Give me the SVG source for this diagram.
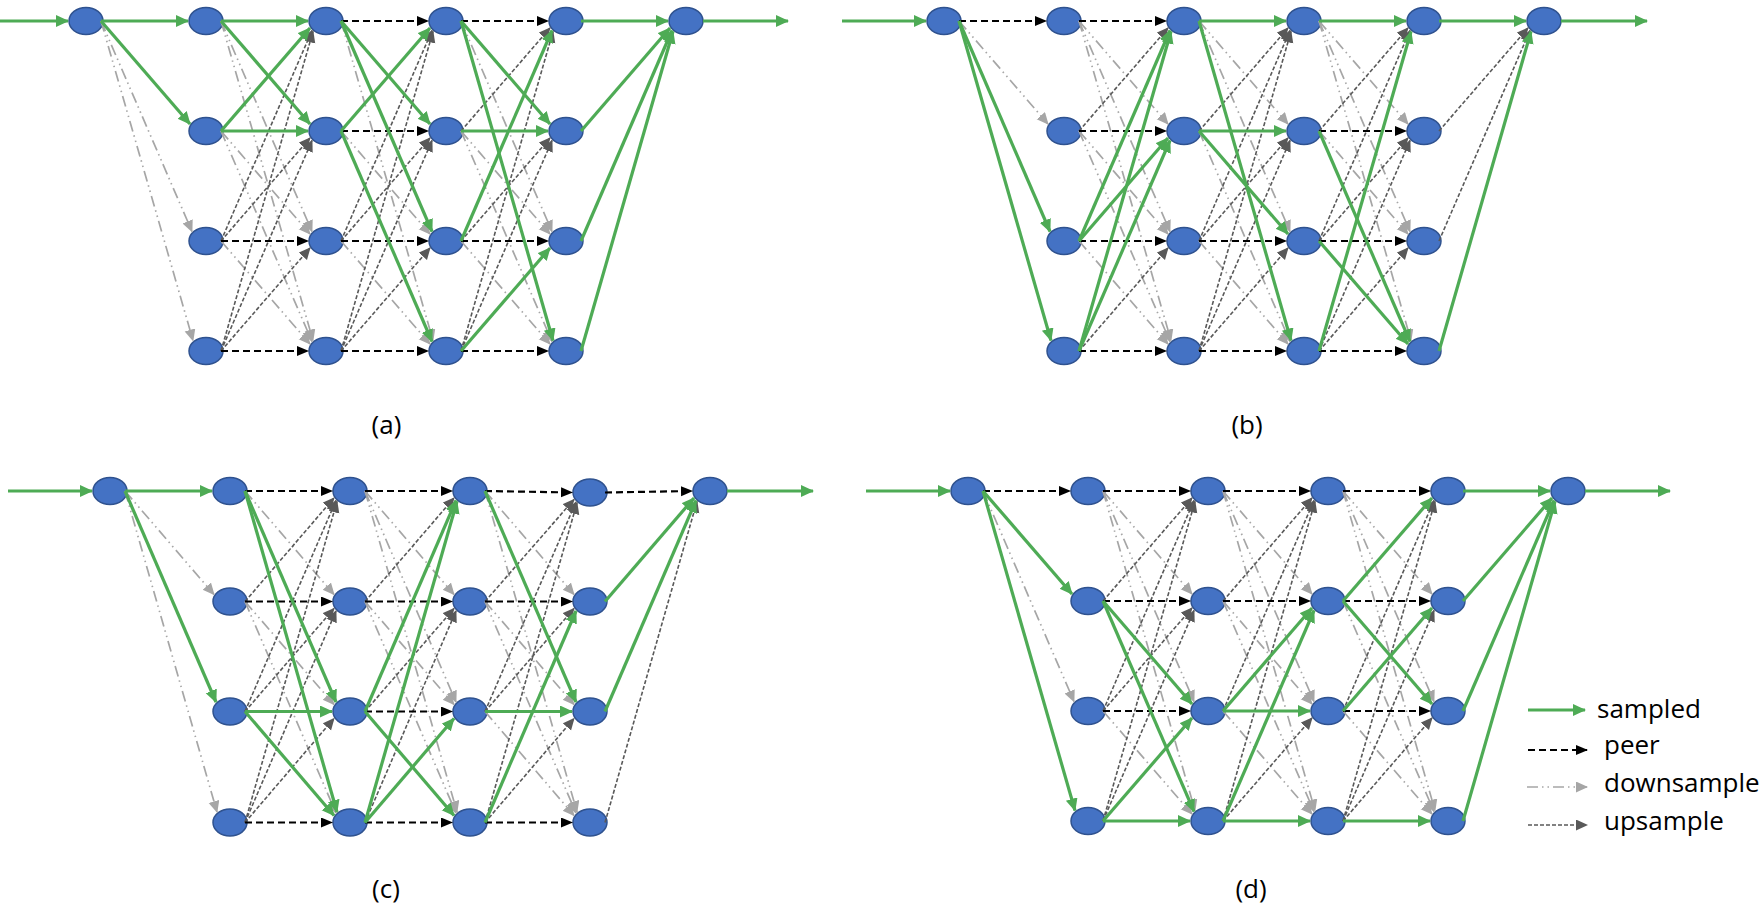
<svg xmlns="http://www.w3.org/2000/svg" width="1763" height="919" viewBox="0 0 1763 919">
<style>
.n{fill:#4472C4;stroke:#2F528F;stroke-width:1.5}
.s line{stroke:#4EAB55;stroke-width:3.2;marker-end:url(#ms)}
.p line{stroke:#000;stroke-width:2.2;stroke-dasharray:7 4;marker-end:url(#mp)}
.d line{stroke:#A6A6A6;stroke-width:1.7;stroke-dasharray:11 4 1.5 4 1.5 4;marker-end:url(#md)}
.u line{stroke:#595959;stroke-width:1.6;stroke-dasharray:4 2;marker-end:url(#mu)}
.lbl{font-family:"Open Sans","Noto Sans","Liberation Sans",sans-serif;font-size:26px;fill:#000}
</style>
<defs>
<marker id="ms" markerUnits="userSpaceOnUse" markerWidth="14" markerHeight="13" refX="12" refY="6" orient="auto"><path d="M0,0 L13,6 L0,12 z" fill="#4EAB55"/></marker>
<marker id="mp" markerUnits="userSpaceOnUse" markerWidth="13" markerHeight="11" refX="11" refY="5" orient="auto"><path d="M0,0 L12,5 L0,10 z" fill="#000"/></marker>
<marker id="md" markerUnits="userSpaceOnUse" markerWidth="13" markerHeight="12" refX="11" refY="5.5" orient="auto"><path d="M0,0 L12,5.5 L0,11 z" fill="#A6A6A6"/></marker>
<marker id="mu" markerUnits="userSpaceOnUse" markerWidth="13" markerHeight="12" refX="11" refY="5.5" orient="auto"><path d="M0,0 L12,5.5 L0,11 z" fill="#595959"/></marker>
</defs>
<rect width="1763" height="919" fill="#fff"/>

<g id="nodes">
<g id="panel-a-nodes">
<g id="a-c0r0"><ellipse class="n" cx="86" cy="21" rx="17" ry="13.5"/></g>
<g id="a-c1r0"><ellipse class="n" cx="206" cy="21" rx="17" ry="13.5"/></g>
<g id="a-c1r1"><ellipse class="n" cx="206" cy="131" rx="17" ry="13.5"/></g>
<g id="a-c1r2"><ellipse class="n" cx="206" cy="241" rx="17" ry="13.5"/></g>
<g id="a-c1r3"><ellipse class="n" cx="206" cy="351" rx="17" ry="13.5"/></g>
<g id="a-c2r0"><ellipse class="n" cx="326" cy="21" rx="17" ry="13.5"/></g>
<g id="a-c2r1"><ellipse class="n" cx="326" cy="131" rx="17" ry="13.5"/></g>
<g id="a-c2r2"><ellipse class="n" cx="326" cy="241" rx="17" ry="13.5"/></g>
<g id="a-c2r3"><ellipse class="n" cx="326" cy="351" rx="17" ry="13.5"/></g>
<g id="a-c3r0"><ellipse class="n" cx="446" cy="21" rx="17" ry="13.5"/></g>
<g id="a-c3r1"><ellipse class="n" cx="446" cy="131" rx="17" ry="13.5"/></g>
<g id="a-c3r2"><ellipse class="n" cx="446" cy="241" rx="17" ry="13.5"/></g>
<g id="a-c3r3"><ellipse class="n" cx="446" cy="351" rx="17" ry="13.5"/></g>
<g id="a-c4r0"><ellipse class="n" cx="566" cy="21" rx="17" ry="13.5"/></g>
<g id="a-c4r1"><ellipse class="n" cx="566" cy="131" rx="17" ry="13.5"/></g>
<g id="a-c4r2"><ellipse class="n" cx="566" cy="241" rx="17" ry="13.5"/></g>
<g id="a-c4r3"><ellipse class="n" cx="566" cy="351" rx="17" ry="13.5"/></g>
<g id="a-c5r0"><ellipse class="n" cx="686" cy="21" rx="17" ry="13.5"/></g>
</g>
<g id="panel-b-nodes">
<g id="b-c0r0"><ellipse class="n" cx="944" cy="21" rx="17" ry="13.5"/></g>
<g id="b-c1r0"><ellipse class="n" cx="1064" cy="21" rx="17" ry="13.5"/></g>
<g id="b-c1r1"><ellipse class="n" cx="1064" cy="131" rx="17" ry="13.5"/></g>
<g id="b-c1r2"><ellipse class="n" cx="1064" cy="241" rx="17" ry="13.5"/></g>
<g id="b-c1r3"><ellipse class="n" cx="1064" cy="351" rx="17" ry="13.5"/></g>
<g id="b-c2r0"><ellipse class="n" cx="1184" cy="21" rx="17" ry="13.5"/></g>
<g id="b-c2r1"><ellipse class="n" cx="1184" cy="131" rx="17" ry="13.5"/></g>
<g id="b-c2r2"><ellipse class="n" cx="1184" cy="241" rx="17" ry="13.5"/></g>
<g id="b-c2r3"><ellipse class="n" cx="1184" cy="351" rx="17" ry="13.5"/></g>
<g id="b-c3r0"><ellipse class="n" cx="1304" cy="21" rx="17" ry="13.5"/></g>
<g id="b-c3r1"><ellipse class="n" cx="1304" cy="131" rx="17" ry="13.5"/></g>
<g id="b-c3r2"><ellipse class="n" cx="1304" cy="241" rx="17" ry="13.5"/></g>
<g id="b-c3r3"><ellipse class="n" cx="1304" cy="351" rx="17" ry="13.5"/></g>
<g id="b-c4r0"><ellipse class="n" cx="1424" cy="21" rx="17" ry="13.5"/></g>
<g id="b-c4r1"><ellipse class="n" cx="1424" cy="131" rx="17" ry="13.5"/></g>
<g id="b-c4r2"><ellipse class="n" cx="1424" cy="241" rx="17" ry="13.5"/></g>
<g id="b-c4r3"><ellipse class="n" cx="1424" cy="351" rx="17" ry="13.5"/></g>
<g id="b-c5r0"><ellipse class="n" cx="1544" cy="21" rx="17" ry="13.5"/></g>
</g>
<g id="panel-c-nodes">
<g id="c-c0r0"><ellipse class="n" cx="110" cy="491" rx="17" ry="13.5"/></g>
<g id="c-c1r0"><ellipse class="n" cx="230" cy="491" rx="17" ry="13.5"/></g>
<g id="c-c1r1"><ellipse class="n" cx="230" cy="601.5" rx="17" ry="13.5"/></g>
<g id="c-c1r2"><ellipse class="n" cx="230" cy="711.5" rx="17" ry="13.5"/></g>
<g id="c-c1r3"><ellipse class="n" cx="230" cy="822.5" rx="17" ry="13.5"/></g>
<g id="c-c2r0"><ellipse class="n" cx="350" cy="491" rx="17" ry="13.5"/></g>
<g id="c-c2r1"><ellipse class="n" cx="350" cy="601.5" rx="17" ry="13.5"/></g>
<g id="c-c2r2"><ellipse class="n" cx="350" cy="711.5" rx="17" ry="13.5"/></g>
<g id="c-c2r3"><ellipse class="n" cx="350" cy="822.5" rx="17" ry="13.5"/></g>
<g id="c-c3r0"><ellipse class="n" cx="470" cy="491" rx="17" ry="13.5"/></g>
<g id="c-c3r1"><ellipse class="n" cx="470" cy="601.5" rx="17" ry="13.5"/></g>
<g id="c-c3r2"><ellipse class="n" cx="470" cy="711.5" rx="17" ry="13.5"/></g>
<g id="c-c3r3"><ellipse class="n" cx="470" cy="822.5" rx="17" ry="13.5"/></g>
<g id="c-c4r0"><ellipse class="n" cx="590" cy="492.5" rx="17" ry="13.5"/></g>
<g id="c-c4r1"><ellipse class="n" cx="590" cy="601.5" rx="17" ry="13.5"/></g>
<g id="c-c4r2"><ellipse class="n" cx="590" cy="711.5" rx="17" ry="13.5"/></g>
<g id="c-c4r3"><ellipse class="n" cx="590" cy="822.5" rx="17" ry="13.5"/></g>
<g id="c-c5r0"><ellipse class="n" cx="710" cy="491" rx="17" ry="13.5"/></g>
</g>
<g id="panel-d-nodes">
<g id="d-c0r0"><ellipse class="n" cx="968" cy="491" rx="17" ry="13.5"/></g>
<g id="d-c1r0"><ellipse class="n" cx="1088" cy="491" rx="17" ry="13.5"/></g>
<g id="d-c1r1"><ellipse class="n" cx="1088" cy="601" rx="17" ry="13.5"/></g>
<g id="d-c1r2"><ellipse class="n" cx="1088" cy="711" rx="17" ry="13.5"/></g>
<g id="d-c1r3"><ellipse class="n" cx="1088" cy="821" rx="17" ry="13.5"/></g>
<g id="d-c2r0"><ellipse class="n" cx="1208" cy="491" rx="17" ry="13.5"/></g>
<g id="d-c2r1"><ellipse class="n" cx="1208" cy="601" rx="17" ry="13.5"/></g>
<g id="d-c2r2"><ellipse class="n" cx="1208" cy="711" rx="17" ry="13.5"/></g>
<g id="d-c2r3"><ellipse class="n" cx="1208" cy="821" rx="17" ry="13.5"/></g>
<g id="d-c3r0"><ellipse class="n" cx="1328" cy="491" rx="17" ry="13.5"/></g>
<g id="d-c3r1"><ellipse class="n" cx="1328" cy="601" rx="17" ry="13.5"/></g>
<g id="d-c3r2"><ellipse class="n" cx="1328" cy="711" rx="17" ry="13.5"/></g>
<g id="d-c3r3"><ellipse class="n" cx="1328" cy="821" rx="17" ry="13.5"/></g>
<g id="d-c4r0"><ellipse class="n" cx="1448" cy="491" rx="17" ry="13.5"/></g>
<g id="d-c4r1"><ellipse class="n" cx="1448" cy="601" rx="17" ry="13.5"/></g>
<g id="d-c4r2"><ellipse class="n" cx="1448" cy="711" rx="17" ry="13.5"/></g>
<g id="d-c4r3"><ellipse class="n" cx="1448" cy="821" rx="17" ry="13.5"/></g>
<g id="d-c5r0"><ellipse class="n" cx="1568" cy="491" rx="17" ry="13.5"/></g>
</g>
</g>

<g id="connectors">
<g class="d">
<line x1="101" y1="21" x2="192" y2="231.5"/><line x1="101" y1="21" x2="193" y2="340.5"/>
<line x1="221" y1="21" x2="312" y2="231.5"/><line x1="221" y1="21" x2="313" y2="340.5"/><line x1="221" y1="131" x2="310" y2="234"/><line x1="221" y1="131" x2="312" y2="341.5"/><line x1="221" y1="241" x2="310" y2="344"/>
<line x1="341" y1="21" x2="433" y2="340.5"/><line x1="341" y1="131" x2="430" y2="234"/><line x1="341" y1="241" x2="430" y2="344"/>
<line x1="461" y1="21" x2="552" y2="231.5"/><line x1="461" y1="131" x2="550" y2="234"/><line x1="461" y1="131" x2="552" y2="341.5"/><line x1="461" y1="241" x2="550" y2="344"/>

<line x1="959" y1="21" x2="1048" y2="124"/>
<line x1="1079" y1="21" x2="1168" y2="124"/><line x1="1079" y1="21" x2="1170" y2="231.5"/><line x1="1079" y1="21" x2="1171" y2="340.5"/><line x1="1079" y1="131" x2="1168" y2="234"/><line x1="1079" y1="131" x2="1170" y2="341.5"/><line x1="1079" y1="241" x2="1168" y2="344"/>
<line x1="1199" y1="21" x2="1288" y2="124"/><line x1="1199" y1="21" x2="1290" y2="231.5"/><line x1="1199" y1="131" x2="1290" y2="341.5"/><line x1="1199" y1="241" x2="1288" y2="344"/>
<line x1="1319" y1="21" x2="1408" y2="124"/><line x1="1319" y1="21" x2="1410" y2="231.5"/><line x1="1319" y1="21" x2="1411" y2="340.5"/><line x1="1319" y1="131" x2="1408" y2="234"/>

<line x1="125" y1="491" x2="214" y2="594.5"/><line x1="125" y1="491" x2="217" y2="812"/>
<line x1="245" y1="491" x2="334" y2="594.5"/><line x1="245" y1="601.5" x2="334" y2="704.5"/><line x1="245" y1="601.5" x2="336" y2="813"/>
<line x1="365" y1="491" x2="454" y2="594.5"/><line x1="365" y1="491" x2="456" y2="702"/><line x1="365" y1="491" x2="457" y2="812"/><line x1="365" y1="601.5" x2="454" y2="704.5"/><line x1="365" y1="601.5" x2="456" y2="813"/>
<line x1="485" y1="491" x2="574" y2="594.5"/><line x1="485" y1="491" x2="577" y2="812"/><line x1="485" y1="601.5" x2="574" y2="704.5"/><line x1="485" y1="601.5" x2="576" y2="813"/><line x1="485" y1="711.5" x2="574" y2="815.5"/>

<line x1="983" y1="491" x2="1074" y2="701.5"/>
<line x1="1103" y1="491" x2="1192" y2="594"/><line x1="1103" y1="491" x2="1194" y2="701.5"/><line x1="1103" y1="491" x2="1195" y2="810.5"/><line x1="1103" y1="711" x2="1192" y2="814"/>
<line x1="1223" y1="491" x2="1312" y2="594"/><line x1="1223" y1="491" x2="1314" y2="701.5"/><line x1="1223" y1="491" x2="1315" y2="810.5"/><line x1="1223" y1="601" x2="1312" y2="704"/><line x1="1223" y1="601" x2="1314" y2="811.5"/><line x1="1223" y1="711" x2="1312" y2="814"/>
<line x1="1343" y1="491" x2="1432" y2="594"/><line x1="1343" y1="491" x2="1434" y2="701.5"/><line x1="1343" y1="491" x2="1435" y2="810.5"/><line x1="1343" y1="601" x2="1434" y2="811.5"/><line x1="1343" y1="711" x2="1432" y2="814"/>
</g>

<g class="u">
<line x1="221" y1="241" x2="312" y2="30.5"/><line x1="221" y1="241" x2="310" y2="138"/><line x1="221" y1="351" x2="313" y2="31.5"/><line x1="221" y1="351" x2="312" y2="140.5"/><line x1="221" y1="351" x2="310" y2="248"/>
<line x1="341" y1="241" x2="432" y2="30.5"/><line x1="341" y1="241" x2="430" y2="138"/><line x1="341" y1="351" x2="433" y2="31.5"/><line x1="341" y1="351" x2="432" y2="140.5"/><line x1="341" y1="351" x2="430" y2="248"/>
<line x1="461" y1="131" x2="550" y2="28"/><line x1="461" y1="241" x2="550" y2="138"/><line x1="461" y1="351" x2="553" y2="31.5"/><line x1="461" y1="351" x2="552" y2="140.5"/>

<line x1="1079" y1="131" x2="1168" y2="28"/><line x1="1079" y1="351" x2="1168" y2="248"/>
<line x1="1199" y1="131" x2="1288" y2="28"/><line x1="1199" y1="241" x2="1290" y2="30.5"/><line x1="1199" y1="241" x2="1288" y2="138"/><line x1="1199" y1="351" x2="1291" y2="31.5"/><line x1="1199" y1="351" x2="1290" y2="140.5"/><line x1="1199" y1="351" x2="1288" y2="248"/>
<line x1="1319" y1="131" x2="1408" y2="28"/><line x1="1319" y1="241" x2="1410" y2="30.5"/><line x1="1319" y1="241" x2="1408" y2="138"/><line x1="1319" y1="351" x2="1410" y2="140.5"/><line x1="1319" y1="351" x2="1408" y2="248"/>
<line x1="1439" y1="131" x2="1528" y2="28"/><line x1="1439" y1="241" x2="1530" y2="30.5"/>

<line x1="245" y1="601.5" x2="334" y2="498"/><line x1="245" y1="711.5" x2="336" y2="500.5"/><line x1="245" y1="711.5" x2="334" y2="608.5"/><line x1="245" y1="822.5" x2="337" y2="501.5"/><line x1="245" y1="822.5" x2="336" y2="611"/><line x1="245" y1="822.5" x2="334" y2="718.5"/>
<line x1="365" y1="601.5" x2="454" y2="498"/><line x1="365" y1="711.5" x2="454" y2="608.5"/><line x1="365" y1="822.5" x2="456" y2="611"/>
<line x1="485" y1="601.5" x2="574" y2="499.5"/><line x1="485" y1="711.5" x2="576" y2="502"/><line x1="485" y1="711.5" x2="574" y2="608.5"/><line x1="485" y1="822.5" x2="577" y2="503"/><line x1="485" y1="822.5" x2="574" y2="718.5"/>
<line x1="605" y1="822.5" x2="697" y2="501.5"/>

<line x1="1103" y1="601" x2="1192" y2="498"/><line x1="1103" y1="711" x2="1194" y2="500.5"/><line x1="1103" y1="711" x2="1192" y2="608"/><line x1="1103" y1="821" x2="1195" y2="501.5"/><line x1="1103" y1="821" x2="1194" y2="610.5"/>
<line x1="1223" y1="601" x2="1312" y2="498"/><line x1="1223" y1="711" x2="1314" y2="500.5"/><line x1="1223" y1="821" x2="1315" y2="501.5"/><line x1="1223" y1="821" x2="1312" y2="718"/>
<line x1="1343" y1="711" x2="1434" y2="500.5"/><line x1="1343" y1="821" x2="1435" y2="501.5"/><line x1="1343" y1="821" x2="1434" y2="610.5"/><line x1="1343" y1="821" x2="1432" y2="718"/>
</g>

<g class="p">
<line x1="221" y1="241" x2="308" y2="241"/><line x1="221" y1="351" x2="308" y2="351"/>
<line x1="341" y1="21" x2="428" y2="21"/><line x1="341" y1="131" x2="428" y2="131"/><line x1="341" y1="241" x2="428" y2="241"/><line x1="341" y1="351" x2="428" y2="351"/>
<line x1="461" y1="21" x2="548" y2="21"/><line x1="461" y1="241" x2="548" y2="241"/><line x1="461" y1="351" x2="548" y2="351"/>

<line x1="959" y1="21" x2="1046" y2="21"/>
<line x1="1079" y1="21" x2="1166" y2="21"/><line x1="1079" y1="131" x2="1166" y2="131"/><line x1="1079" y1="241" x2="1166" y2="241"/><line x1="1079" y1="351" x2="1166" y2="351"/>
<line x1="1199" y1="241" x2="1286" y2="241"/><line x1="1199" y1="351" x2="1286" y2="351"/>
<line x1="1319" y1="131" x2="1406" y2="131"/><line x1="1319" y1="241" x2="1406" y2="241"/><line x1="1319" y1="351" x2="1406" y2="351"/>

<line x1="245" y1="491" x2="332" y2="491"/><line x1="245" y1="601.5" x2="332" y2="601.5"/><line x1="245" y1="822.5" x2="332" y2="822.5"/>
<line x1="365" y1="491" x2="452" y2="491"/><line x1="365" y1="601.5" x2="452" y2="601.5"/><line x1="365" y1="711.5" x2="452" y2="711.5"/><line x1="365" y1="822.5" x2="452" y2="822.5"/>
<line x1="485" y1="491" x2="572" y2="492.5"/><line x1="485" y1="601.5" x2="572" y2="601.5"/><line x1="485" y1="822.5" x2="572" y2="822.5"/>
<line x1="605" y1="492.5" x2="692" y2="491"/>

<line x1="983" y1="491" x2="1070" y2="491"/>
<line x1="1103" y1="491" x2="1190" y2="491"/><line x1="1103" y1="601" x2="1190" y2="601"/><line x1="1103" y1="711" x2="1190" y2="711"/>
<line x1="1223" y1="491" x2="1310" y2="491"/><line x1="1223" y1="601" x2="1310" y2="601"/>
<line x1="1343" y1="491" x2="1430" y2="491"/><line x1="1343" y1="601" x2="1430" y2="601"/><line x1="1343" y1="711" x2="1430" y2="711"/>
</g>

<g class="s">
<line x1="0" y1="21" x2="68" y2="21"/>
<line x1="101" y1="21" x2="188" y2="21"/><line x1="101" y1="21" x2="190" y2="124"/>
<line x1="221" y1="21" x2="308" y2="21"/><line x1="221" y1="21" x2="310" y2="124"/><line x1="221" y1="131" x2="310" y2="28"/><line x1="221" y1="131" x2="308" y2="131"/>
<line x1="341" y1="21" x2="430" y2="124"/><line x1="341" y1="21" x2="432" y2="231.5"/><line x1="341" y1="131" x2="430" y2="28"/><line x1="341" y1="131" x2="432" y2="341.5"/>
<line x1="461" y1="21" x2="550" y2="124"/><line x1="461" y1="21" x2="553" y2="340.5"/><line x1="461" y1="131" x2="548" y2="131"/><line x1="461" y1="241" x2="552" y2="30.5"/><line x1="461" y1="351" x2="550" y2="248"/>
<line x1="581" y1="21" x2="668" y2="21"/><line x1="581" y1="131" x2="670" y2="28"/><line x1="581" y1="241" x2="672" y2="30.5"/><line x1="581" y1="351" x2="673" y2="31.5"/>
<line x1="703" y1="21" x2="788" y2="21"/>

<line x1="842" y1="21" x2="926" y2="21"/>
<line x1="959" y1="21" x2="1050" y2="231.5"/><line x1="959" y1="21" x2="1051" y2="340.5"/>
<line x1="1079" y1="241" x2="1170" y2="30.5"/><line x1="1079" y1="241" x2="1168" y2="138"/><line x1="1079" y1="351" x2="1171" y2="31.5"/><line x1="1079" y1="351" x2="1170" y2="140.5"/>
<line x1="1199" y1="21" x2="1286" y2="21"/><line x1="1199" y1="21" x2="1291" y2="340.5"/><line x1="1199" y1="131" x2="1286" y2="131"/><line x1="1199" y1="131" x2="1288" y2="234"/>
<line x1="1319" y1="21" x2="1406" y2="21"/><line x1="1319" y1="131" x2="1410" y2="341.5"/><line x1="1319" y1="241" x2="1408" y2="344"/><line x1="1319" y1="351" x2="1411" y2="31.5"/>
<line x1="1439" y1="21" x2="1526" y2="21"/><line x1="1439" y1="351" x2="1531" y2="31.5"/>
<line x1="1561" y1="21" x2="1647" y2="21"/>

<line x1="8" y1="491" x2="92" y2="491"/>
<line x1="125" y1="491" x2="212" y2="491"/><line x1="125" y1="491" x2="216" y2="702"/>
<line x1="245" y1="491" x2="336" y2="702"/><line x1="245" y1="491" x2="337" y2="812"/><line x1="245" y1="711.5" x2="332" y2="711.5"/><line x1="245" y1="711.5" x2="334" y2="815.5"/>
<line x1="365" y1="711.5" x2="456" y2="500.5"/><line x1="365" y1="822.5" x2="457" y2="501.5"/><line x1="365" y1="822.5" x2="454" y2="718.5"/><line x1="365" y1="711.5" x2="454" y2="815.5"/>
<line x1="485" y1="491" x2="576" y2="702"/><line x1="485" y1="711.5" x2="572" y2="711.5"/><line x1="485" y1="822.5" x2="576" y2="611"/>
<line x1="605" y1="601.5" x2="694" y2="498"/><line x1="605" y1="711.5" x2="696" y2="500.5"/>
<line x1="727" y1="491" x2="813" y2="491"/>

<line x1="866" y1="491" x2="950" y2="491"/>
<line x1="983" y1="491" x2="1072" y2="594"/><line x1="983" y1="491" x2="1075" y2="810.5"/>
<line x1="1103" y1="601" x2="1192" y2="704"/><line x1="1103" y1="601" x2="1194" y2="811.5"/><line x1="1103" y1="821" x2="1192" y2="718"/><line x1="1103" y1="821" x2="1190" y2="821"/>
<line x1="1223" y1="711" x2="1312" y2="608"/><line x1="1223" y1="711" x2="1310" y2="711"/><line x1="1223" y1="821" x2="1314" y2="610.5"/><line x1="1223" y1="821" x2="1310" y2="821"/>
<line x1="1343" y1="601" x2="1432" y2="498"/><line x1="1343" y1="601" x2="1432" y2="704"/><line x1="1343" y1="711" x2="1432" y2="608"/><line x1="1343" y1="821" x2="1430" y2="821"/>
<line x1="1463" y1="491" x2="1550" y2="491"/><line x1="1463" y1="601" x2="1552" y2="498"/><line x1="1463" y1="711" x2="1554" y2="500.5"/><line x1="1463" y1="821" x2="1555" y2="501.5"/>
<line x1="1585" y1="491" x2="1670" y2="491"/>
</g>
</g>

<g id="legend">
<g class="s"><line x1="1528" y1="710" x2="1585" y2="710"/></g>
<g class="p"><line x1="1528" y1="750" x2="1587" y2="750"/></g>
<g class="d"><line x1="1527" y1="787" x2="1587" y2="787"/></g>
<g class="u"><line x1="1528" y1="825" x2="1587" y2="825"/></g>
<text class="lbl" x="1597" y="718">sampled</text>
<text class="lbl" x="1604" y="754">peer</text>
<text class="lbl" x="1604" y="792">downsample</text>
<text class="lbl" x="1604" y="829.5">upsample</text>
</g>

<g id="captions">
<text class="lbl" x="386.5" y="433.5" text-anchor="middle">(a)</text>
<text class="lbl" x="1247" y="433.5" text-anchor="middle">(b)</text>
<text class="lbl" x="386" y="897.5" text-anchor="middle">(c)</text>
<text class="lbl" x="1251" y="897.5" text-anchor="middle">(d)</text>
</g>
</svg>
